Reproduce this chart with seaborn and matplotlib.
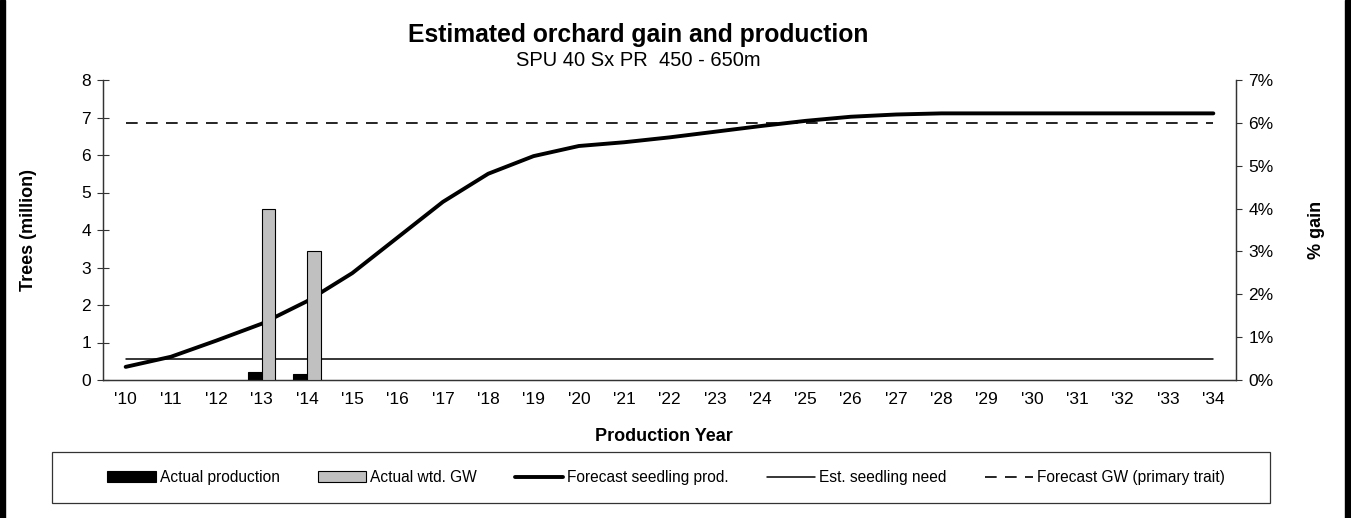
import matplotlib
matplotlib.use("Agg")
import matplotlib.pyplot as plt
import matplotlib.patches as mpatches
from matplotlib.lines import Line2D
import numpy as np
import pandas as pd
import seaborn as sns

# datos
anios = ["'10", "'11", "'12", "'13", "'14", "'15", "'16", "'17", "'18", "'19",
         "'20", "'21", "'22", "'23", "'24", "'25", "'26", "'27", "'28", "'29",
         "'30", "'31", "'32", "'33", "'34"]
produccion_prevista = [0.35, 0.62, 1.05, 1.5, 2.1, 2.85, 3.8, 4.75, 5.5, 5.97,
                       6.24, 6.34, 6.47, 6.62, 6.77, 6.91, 7.02, 7.08, 7.11, 7.11,
                       7.11, 7.11, 7.11, 7.11, 7.11]
necesidad_plantines = 0.57          # millones
ganancia_prevista = 6.0             # % (eje secundario)

anios_reales = ["'13", "'14"]
produccion_real = [0.22, 0.15]      # millones
ganancia_real = [4.0, 3.0]          # %

sns.set_style("white")
plt.rcParams["font.family"] = ["Liberation Sans", "DejaVu Sans"]
plt.rcParams["text.color"] = "black"
plt.rcParams["axes.labelcolor"] = "black"
plt.rcParams["xtick.color"] = "black"
plt.rcParams["ytick.color"] = "black"

fig = plt.figure(figsize=(13.51, 5.18), dpi=100)
ax = fig.add_axes([103 / 1351, 1 - 380 / 518, 1133 / 1351, 300 / 518])
ax2 = ax.twinx()

posiciones = np.arange(len(anios))
df_lineas = pd.DataFrame({"pos": posiciones, "prod": produccion_prevista})

# barras: produccion real (izq) y ganancia real (der)
idx_reales = np.array([anios.index(a) for a in anios_reales])
ancho = 0.3
ax.bar(idx_reales - ancho / 2, produccion_real, width=ancho, color="black",
       edgecolor="black", linewidth=0.8, zorder=3)
ax2.bar(idx_reales + ancho / 2, ganancia_real, width=ancho, color="#c0c0c0",
        edgecolor="black", linewidth=0.8, zorder=3)

sns.lineplot(data=df_lineas, x="pos", y="prod", ax=ax, color="black",
             linewidth=2.8, zorder=4)
ax.plot([posiciones[0], posiciones[-1]], [necesidad_plantines] * 2,
        color="black", linewidth=1.1, zorder=4)
ax2.plot([posiciones[0], posiciones[-1]], [ganancia_prevista] * 2,
         color="black", linewidth=1.2, linestyle=(0, (7, 5)), zorder=4)

ax.set_xlim(-0.5, len(anios) - 0.5)
ax.set_ylim(0, 8)
ax2.set_ylim(0, 7)

ax.set_xticks(posiciones)
ax.set_xticklabels(anios)
ax.set_xticks(np.arange(-0.5, len(anios)), minor=True)
ax.tick_params(axis="x", which="major", length=0, pad=9, labelsize=12.5)
ax.tick_params(axis="x", which="minor", direction="inout", length=9,
               width=0.8, color="#333333")
ax.set_yticks(range(0, 9))
ax.tick_params(axis="y", direction="inout", length=9, width=0.8,
               color="#333333", labelsize=12.5, pad=4)
ax2.set_yticks(range(0, 8))
ax2.set_yticklabels([f"{v}%" for v in range(0, 8)])
ax2.tick_params(axis="y", direction="out", length=4, width=0.8,
                color="#333333", labelsize=12.5, pad=5)

for a in (ax, ax2):
    a.spines["top"].set_visible(False)
    for lado in ("left", "right", "bottom"):
        a.spines[lado].set_color("#333333")
        a.spines[lado].set_linewidth(0.9)
    a.patch.set_visible(False)

ax.set_xlabel("Production Year", fontsize=13, fontweight="bold")
ax.xaxis.set_label_coords(0.495, -0.16)
ax.set_ylabel("Trees (million)", fontsize=13, fontweight="bold")
ax.yaxis.set_label_coords(-0.058, 0.5)
ax2.set_ylabel("% gain", fontsize=13, fontweight="bold")
ax2.yaxis.set_label_coords(1.0635, 0.5)

fig.text(638 / 1351, 1 - 35 / 518, "Estimated orchard gain and production",
         ha="center", va="center", fontsize=17.8, fontweight="bold")
fig.text(638 / 1351, 1 - 60 / 518, "SPU 40 Sx PR  450 - 650m",
         ha="center", va="center", fontsize=14.5)

# recuadro de la leyenda
fig.add_artist(mpatches.Rectangle((52 / 1351, 1 - 503 / 518), 1218 / 1351, 51 / 518,
                                  transform=fig.transFigure, facecolor="none",
                                  edgecolor="#333333", linewidth=0.9))

manejadores = [
    mpatches.Patch(facecolor="black", edgecolor="black", linewidth=0.8),
    mpatches.Patch(facecolor="#c0c0c0", edgecolor="black", linewidth=0.8),
    Line2D([], [], color="black", linewidth=2.8),
    Line2D([], [], color="black", linewidth=1.1),
    Line2D([], [], color="black", linewidth=1.2, linestyle=(0, (7, 5))),
]
etiquetas = ["Actual production", "Actual wtd. GW", "Forecast seedling prod.",
             "Est. seedling need", "Forecast GW (primary trait)"]
fig.legend(manejadores, etiquetas, ncol=5, loc="center",
           bbox_to_anchor=(666 / 1351, 1 - 477.5 / 518),
           fontsize=11.2, frameon=False, handlelength=3.1, handleheight=0.65,
           handletextpad=0.26, columnspacing=2.45, borderaxespad=0)

# bordes laterales negros del recuadro original
fig.add_artist(mpatches.Rectangle((0, 0), 5 / 1351, 1, transform=fig.transFigure,
                                  color="black"))
fig.add_artist(mpatches.Rectangle((1 - 6 / 1351, 0), 6 / 1351, 1,
                                  transform=fig.transFigure, color="black"))

fig.savefig("out.png", dpi=100)
